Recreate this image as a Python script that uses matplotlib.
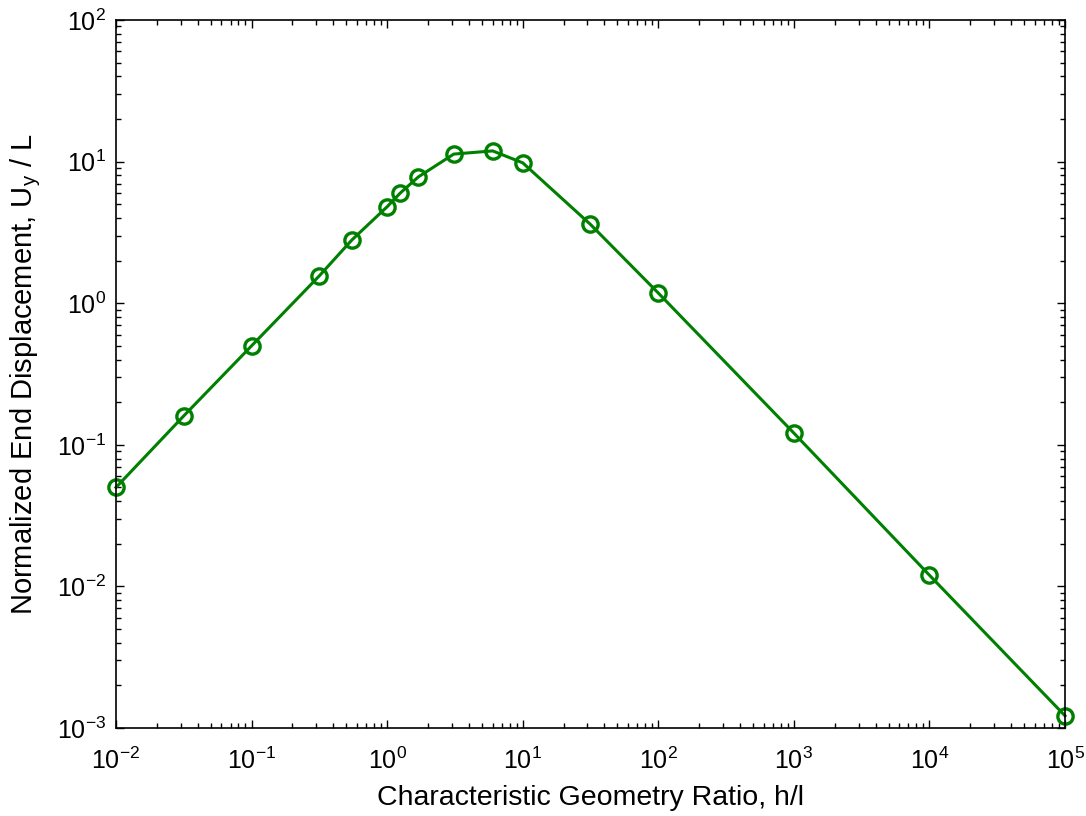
import matplotlib
matplotlib.use("Agg")
import matplotlib.pyplot as plt
import numpy as np

# geometry ratio h/l and normalized end displacement Uy/L
ratio = [0.01, 0.0316, 0.1, 0.316, 0.55, 1.0, 1.25, 1.7, 3.1, 6.0, 10.0,
         31.6, 100.0, 1000.0, 1e4, 1e5]
disp = [0.05, 0.16, 0.5, 1.56, 2.8, 4.8, 6.0, 7.8, 11.3, 11.9, 9.8,
        3.6, 1.18, 0.121, 0.012, 0.00122]

plt.rcParams['font.family'] = ['Liberation Sans', 'DejaVu Sans']
plt.rcParams['mathtext.fontset'] = 'custom'
plt.rcParams['mathtext.rm'] = 'Liberation Sans'
plt.rcParams['mathtext.it'] = 'Liberation Sans'
plt.rcParams['mathtext.default'] = 'regular'

fig = plt.figure(figsize=(10.86, 8.16), dpi=100)
ax = fig.add_axes([0.1068, 0.1078, 0.8739, 0.8677])

ax.loglog(ratio, disp, '-o', color='#008000', lw=2.2, ms=11,
          mfc='none', mew=2.4, clip_on=False)

ax.set_xlim(1e-2, 1e5)
ax.set_ylim(1e-3, 1e2)
ax.tick_params(which='both', direction='in', top=True, right=True,
               labelsize=18)
ax.tick_params(axis='x', which='major', pad=14)
ax.tick_params(axis='y', which='major', pad=7)
ax.tick_params(which='major', length=6, width=1)
ax.tick_params(which='minor', length=3.5, width=1)
for s in ax.spines.values():
    s.set_linewidth(1.2)

ax.set_xlabel('Characteristic Geometry Ratio, h/l', fontsize=20.5, labelpad=8)
ax.set_ylabel('Normalized End Displacement, U$_y$ / L', fontsize=21,
              labelpad=10)

fig.savefig('out.png', dpi=100)
